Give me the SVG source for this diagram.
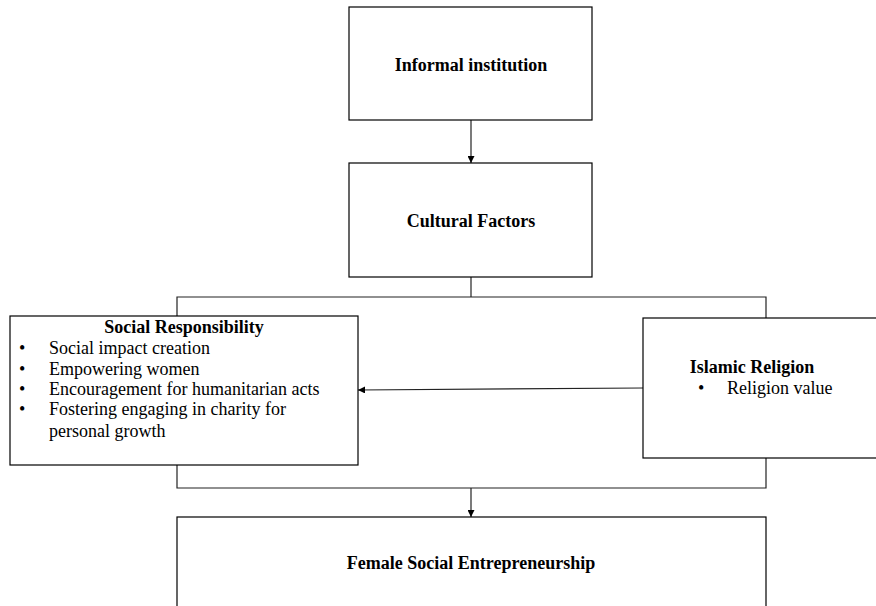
<svg xmlns="http://www.w3.org/2000/svg" width="876" height="606" viewBox="0 0 876 606">
<defs>
<style>
.box{fill:#fff;stroke:#000;stroke-width:1.2}
.ln{fill:none;stroke:#222;stroke-width:1.2}
.t{font-family:"Liberation Serif","Times New Roman",serif;font-size:18px;fill:#000}
.b{font-weight:bold;font-size:18px}
</style>
<marker id="ah" viewBox="0 0 10 10" refX="10" refY="5" markerWidth="7" markerHeight="7" orient="auto" markerUnits="userSpaceOnUse">
<path d="M0,0 L10,5 L0,10 z" fill="#000"/>
</marker>
</defs>
<rect width="876" height="606" fill="#fff"/>
<g id="connectors">
<line class="ln" x1="471" y1="120" x2="471" y2="163" marker-end="url(#ah)"/>
<polyline class="ln" points="471,277 471,297"/>
<polyline class="ln" points="177,316 177,297 766,297 766,318"/>
<line class="ln" x1="643" y1="388" x2="358" y2="390" marker-end="url(#ah)"/>
<polyline class="ln" points="177,465 177,488 766,488 766,458"/>
<line class="ln" x1="471" y1="488" x2="471" y2="517" marker-end="url(#ah)"/>
</g>
<g id="informal">
<rect class="box" x="349" y="7" width="243" height="113"/>
<text class="t b" x="471" y="71" text-anchor="middle">Informal institution</text>
</g>
<g id="cultural">
<rect class="box" x="349" y="163" width="243" height="114"/>
<text class="t b" x="471" y="227" text-anchor="middle">Cultural Factors</text>
</g>
<g id="social">
<rect class="box" x="10" y="316" width="348" height="149"/>
<text class="t b" x="184" y="333" text-anchor="middle">Social Responsibility</text>
<text class="t" x="19" y="354">•</text><text class="t" x="49" y="354">Social impact creation</text>
<text class="t" x="19" y="375">•</text><text class="t" x="49" y="375">Empowering women</text>
<text class="t" x="19" y="395">•</text><text class="t" x="49" y="395">Encouragement for humanitarian acts</text>
<text class="t" x="19" y="415">•</text><text class="t" x="49" y="415">Fostering engaging in charity for</text>
<text class="t" x="49" y="437">personal growth</text>
</g>
<g id="islamic">
<rect class="box" x="643" y="318" width="240" height="140"/>
<text class="t b" x="752" y="373" text-anchor="middle">Islamic Religion</text>
<text class="t" x="698" y="394">•</text><text class="t" x="727" y="394">Religion value</text>
</g>
<g id="female">
<rect class="box" x="177" y="517" width="589" height="100"/>
<text class="t b" x="471" y="569" text-anchor="middle">Female Social Entrepreneurship</text>
</g>
</svg>
